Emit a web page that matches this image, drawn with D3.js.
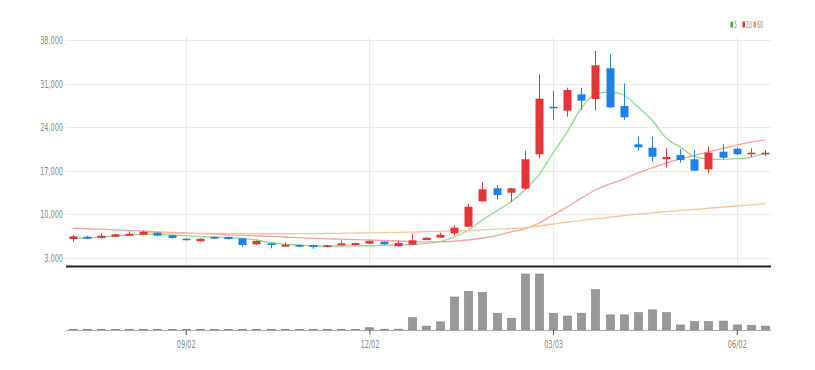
<!DOCTYPE html>
<html>
<head>
<meta charset="utf-8">
<script src="https://cdn.jsdelivr.net/npm/d3@7"></script>
<style>
  body { margin: 0; background: #fff; }
  svg text { font-family: "DejaVu Sans Condensed", "Liberation Sans Narrow", sans-serif; fill: #888; }
</style>
</head>
<body>
<div id="chartContainer"></div>
<script>

// weekly candles, oldest first
var opens  = [6050,6420,6210,6420,6580,6740,7060,6640,6100,5680,6370,6370,6160,5200,5360,4810,5090,5090,4770,5040,
              5090,5300,5620,4880,5140,5890,6260,6970,8030,12100,14190,13480,14130,19650,27290,26650,29280,28530,33460,27400,
              21250,20710,18850,19540,18850,17240,20070,20550,19650,19650]
var closes = [6480,6100,6580,6810,6900,7220,6580,6210,5890,6100,6100,6050,5090,5730,5090,5140,4810,4770,5040,5360,
              5410,5730,5200,5410,5840,6260,6740,7870,11240,14030,13110,14190,18850,28580,27030,29970,28250,33940,27190,25590,
              20770,19260,19220,18730,17020,19910,19100,19650,19910,19910]
var highs  = [6690,6580,6970,6890,7220,7340,7170,6690,6160,6160,6480,6450,6210,5780,5410,5520,5140,5140,5090,5780,
              5460,5810,5680,5780,6900,6320,7060,8250,11670,15200,14720,14240,20230,32490,29860,30340,30340,36230,35700,31050,
              22470,22470,20610,20450,20340,20870,21250,20770,20610,20340]
var lows   = [5620,6050,6130,6370,6530,6690,6480,6130,5810,5620,6130,5970,4810,5140,4560,4770,4720,4490,4720,4970,
              5040,5250,5140,4810,5090,5840,6210,6640,7930,12040,12420,12040,13920,19010,25160,25690,26760,26650,27080,25160,
              20230,18460,17530,18300,16970,16600,18850,19540,19260,19380]
// volume, thousand shares
var volumes = [40,40,40,40,40,40,40,40,40,40,40,40,40,40,40,40,40,40,40,40,
               40,160,60,60,880,280,580,2360,2760,2680,1200,840,4000,4000,1200,1000,1200,2880,1080,1080,
               1240,1440,1240,360,600,600,640,360,340,280]

// moving averages
var ma5  = [6160,6210,6370,6530,6690,6770,6850,6690,6580,6450,6370,6290,6160,5890,5490,5200,5090,4930,4930,4930,
            4960,4970,5040,5090,5170,5360,5620,6370,7500,9100,10550,11990,13920,16330,19860,23230,27080,29330,29650,29170,
            27240,25160,22270,20820,19260,18890,18850,18940,19170,19810]
var ma20 = [7770,7700,7620,7530,7420,7340,7210,7130,7010,6900,6820,6720,6640,6560,6480,6370,6260,6160,6080,6020,
            5950,5890,5810,5730,5650,5600,5600,5700,5890,6210,6610,7170,7660,8620,9900,11190,12630,13920,14880,15680,
            16650,17450,18250,18890,19460,20020,20580,21140,21620,21950]
var ma60 = [null,null,null,null,null,7090,7050,7010,6980,6950,6930,6920,6900,6890,6890,6890,6900,6920,6930,6970,
            7000,7030,7080,7130,7170,7220,7290,7350,7430,7530,7620,7740,7820,8140,8460,8780,9040,9290,9550,9810,
            10060,10260,10430,10630,10800,11000,11170,11350,11540,11730]

var priceTicks = [3000,10000,17000,24000,31000,38000]
var dateTickIdx = [8,21,34,47]
var dateTickLabels = ['09/02','12/02','03/03','06/02']

var maNames = ['5','20','60']
var maColors = ['#8fd88f','#f5a0a3','#f8c594']
var legendSwatch = ['#2cb52c','#e5353a','#f59a3c']

var upColor = '#e5353a', downColor = '#1c82e6'

renderChart()

// squeeze text horizontally, the source uses a very narrow face
function condense(sel, factor) {
    sel.each(function() {
        var w = this.getComputedTextLength()
        d3.select(this)
            .attr('textLength', w * factor)
            .attr('lengthAdjust', 'spacingAndGlyphs')
    })
}

function renderChart() {
    var width = 815, height = 370

    var svg = d3.select('#chartContainer').append('svg')
        .attr('width', width)
        .attr('height', height)

    var left = 66, right = 771

    var xScale = d3.scaleLinear()
        .domain([0, opens.length - 1])
        .range([72.7, 765])

    var yScale = d3.scaleLinear()
        .domain([3000, 38000])
        .range([258, 40])

    var volScale = d3.scaleLinear()
        .domain([0, d3.max(volumes)])
        .range([330, 274])

    // grid
    svg.append('g').selectAll('line')
        .data(priceTicks)
        .enter().append('line')
        .attr('x1', left).attr('x2', right)
        .attr('y1', function(d) { return Math.round(yScale(d)) + 0.5 })
        .attr('y2', function(d) { return Math.round(yScale(d)) + 0.5 })
        .style('stroke', '#ebebeb')

    svg.append('g').selectAll('line')
        .data(dateTickIdx)
        .enter().append('line')
        .attr('x1', function(d) { return Math.round(xScale(d)) + 0.5 })
        .attr('x2', function(d) { return Math.round(xScale(d)) + 0.5 })
        .attr('y1', 35).attr('y2', 266)
        .style('stroke', '#ebebeb')

    // y labels
    svg.append('g').selectAll('text')
        .data(priceTicks)
        .enter().append('text')
        .attr('x', 63)
        .attr('y', function(d) { return yScale(d) + 4 })
        .attr('text-anchor', 'end')
        .style('font-size', '11px')
        .text(d3.format(','))
        .call(condense, 0.66)

    // moving averages
    var maSeries = [ma5, ma20, ma60]
    maSeries.forEach(function(series, k) {
        var line = d3.line()
            .defined(function(d) { return d != null })
            .x(function(d, i) { return xScale(i) })
            .y(function(d) { return yScale(d) })
            .curve(d3.curveMonotoneX)
        svg.append('path')
            .datum(series)
            .attr('d', line)
            .style('fill', 'none')
            .style('stroke', maColors[k])
            .style('stroke-width', 1.3)
    })

    // candles
    var candles = svg.append('g').attr('class', 'candleG')
    var idx = d3.range(opens.length)
    function col(i) { return closes[i] >= opens[i] ? upColor : downColor }

    candles.selectAll('.wick')
        .data(idx)
        .enter().append('line')
        .attr('class', 'wick')
        .attr('x1', function(i) { return Math.round(xScale(i)) + 0.5 })
        .attr('x2', function(i) { return Math.round(xScale(i)) + 0.5 })
        .attr('y1', function(i) { return yScale(highs[i]) })
        .attr('y2', function(i) { return yScale(lows[i]) })
        .style('stroke', col)

    candles.selectAll('.body')
        .data(idx)
        .enter().append('rect')
        .attr('class', 'body')
        .attr('x', function(i) { return Math.round(xScale(i)) - 3.5 })
        .attr('width', 8)
        .attr('y', function(i) { return yScale(Math.max(opens[i], closes[i])) })
        .attr('height', function(i) { return Math.max(1.5, Math.abs(yScale(opens[i]) - yScale(closes[i]))) })
        .style('fill', col)

    // panel separator
    svg.append('line')
        .attr('x1', left).attr('x2', right)
        .attr('y1', 266.5).attr('y2', 266.5)
        .style('stroke', '#222')
        .style('stroke-width', 2)

    // volume
    svg.append('g').selectAll('rect')
        .data(idx)
        .enter().append('rect')
        .attr('x', function(i) { return Math.round(xScale(i)) - 3.5 })
        .attr('width', 8)
        .attr('y', function(i) { return volScale(volumes[i]) })
        .attr('height', function(i) { return 330 - volScale(volumes[i]) })
        .style('fill', '#999')
        .style('stroke', '#808080')
        .style('stroke-width', 0.6)

    var xAxis = d3.axisBottom(xScale)
        .tickValues(dateTickIdx)
        .tickFormat(function(d, i) { return dateTickLabels[i] })
        .tickSize(5)
        .tickSizeOuter(0)

    var axisG = svg.append('g')
        .attr('class', 'xAxis')
        .attr('transform', 'translate(0,330)')
        .call(xAxis)
    axisG.select('.domain').remove()
    axisG.insert('line', ':first-child')
        .attr('x1', left).attr('x2', right)
        .attr('y1', 0.5).attr('y2', 0.5)
        .style('stroke', '#aaa')
    axisG.selectAll('.tick line').style('stroke', '#555')
    axisG.selectAll('.tick text')
        .attr('y', 10)
        .style('font-size', '11px')
        .style('fill', '#888')
        .style('font-family', null)
        .call(condense, 0.66)

    // legend
    var legend = svg.append('g').attr('transform', 'translate(730,21)')
    var lx = [0.5, 12.5, 23.5]
    maNames.forEach(function(name, k) {
        legend.append('rect')
            .attr('x', lx[k]).attr('y', 0.5)
            .attr('width', 2.5).attr('height', 6)
            .style('fill', legendSwatch[k])
        legend.append('text')
            .attr('x', lx[k] + 3.5).attr('y', 7)
            .style('font-size', '8.5px')
            .text(name)
            .call(condense, 0.6)
    })
}

</script>
</body>
</html>
